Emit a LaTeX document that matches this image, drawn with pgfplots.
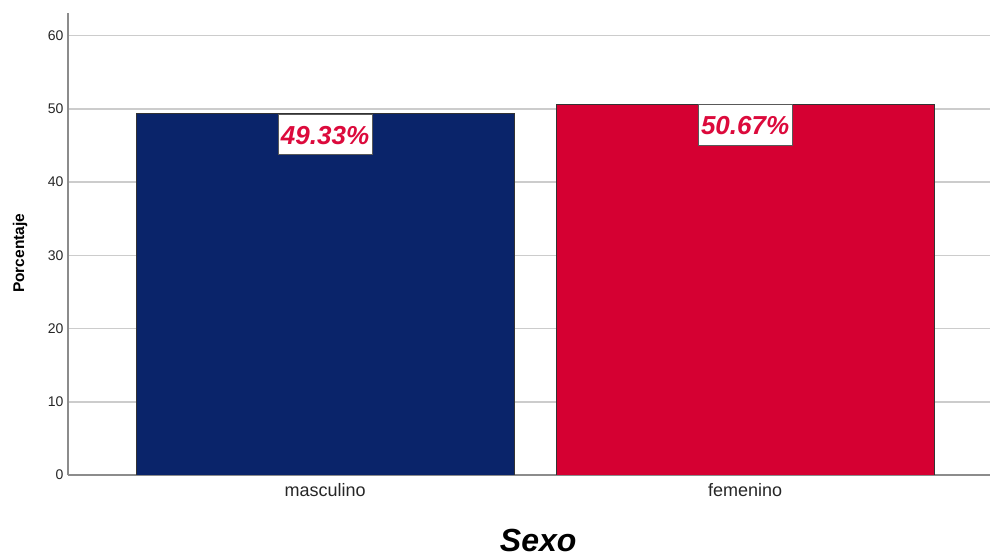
\documentclass[border=0pt]{standalone}
\usepackage{pgfplots}
\pgfplotsset{compat=1.18}
\usepackage{fontspec}
\setmainfont{Liberation Sans}
\definecolor{navy}{HTML}{0A246A}
\definecolor{crim}{HTML}{D50032}
\definecolor{lbl}{HTML}{DC0A3C}
\definecolor{gridc}{HTML}{CCCCCC}
\definecolor{axc}{HTML}{8C8C8C}
\begin{document}
\begin{tikzpicture}
\useasboundingbox (0,0) rectangle (990bp,557bp);
\begin{axis}[
  at={(68bp,82bp)}, anchor=south west,
  scale only axis, width=922bp, height=462bp,
  xmin=-0.612, xmax=1.583, ymin=0, ymax=63.1,
  axis x line*=bottom, axis y line*=left,
  axis line style={axc, line width=1.2bp, -},
  xtick={0,1}, xticklabels={masculino,femenino},
  ytick={0,10,20,30,40,50,60},
  major tick length=0pt,
  ymajorgrids, grid style={gridc, line width=1.5bp},
  xticklabel style={font=\fontsize{18bp}{20bp}\selectfont, color=black!85, yshift=-5bp},
  yticklabel style={font=\fontsize{14bp}{16bp}\selectfont, color=black!85, xshift=-1bp},
  /pgf/number format/assume math mode=true,
  ylabel={\textbf{Porcentaje}},
  ylabel style={font=\fontsize{15.5bp}{17bp}\selectfont, at={(axis description cs:-0.052,0.48)}, anchor=center},
  xlabel={\textbf{\textit{Sexo}}},
  xlabel style={font=\fontsize{32bp}{34bp}\selectfont, at={(axis description cs:0.51,-0.141)}, anchor=center},
  ybar, bar width=378bp, bar shift=0pt,
  point meta=explicit symbolic,
  nodes near coords,
  every node near coord/.append style={anchor=north, fill=white, draw=black!65, line width=0.8bp,
     text=lbl, font=\fontsize{26bp}{28bp}\selectfont\bfseries\itshape,
     text height=19.5bp, text depth=0bp, inner ysep=10.5bp, inner xsep=3bp, yshift=0pt},
]
\addplot[fill=navy, draw=black!80, line width=0.8bp] coordinates {(0,49.33) [49.33\%]};
\addplot[fill=crim, draw=black!80, line width=0.8bp] coordinates {(1,50.67) [50.67\%]};
\end{axis}
\end{tikzpicture}
\end{document}
